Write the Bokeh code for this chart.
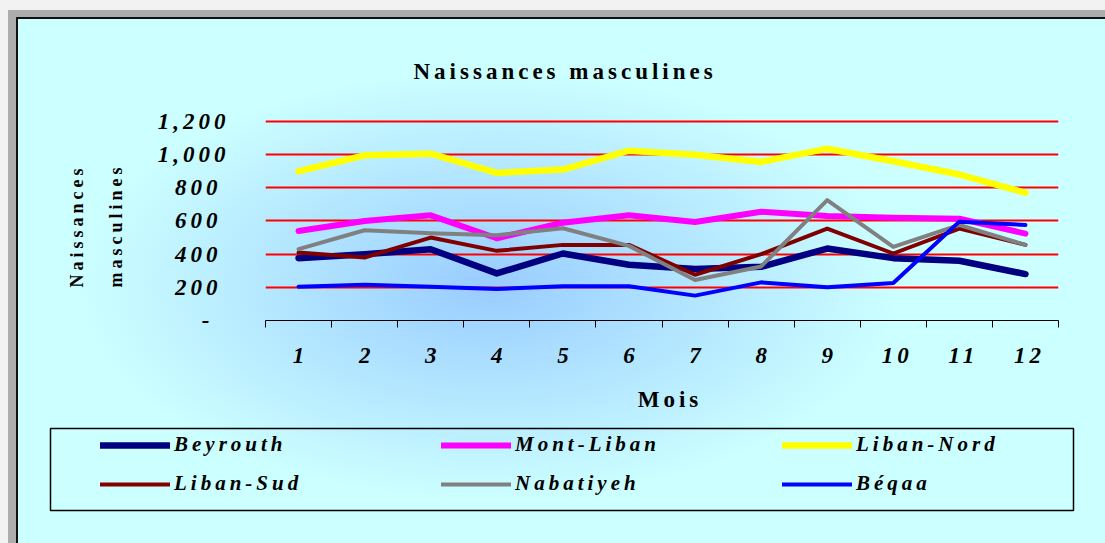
from bokeh.plotting import figure
from bokeh.models import (FixedTicker, NumeralTickFormatter, Legend, LegendItem,
                          Range1d, Title)
from bokeh.embed import file_html
from bokeh.resources import INLINE

# ---------------- data ----------------
months = list(range(1, 13))
beyrouth = [376, 400, 430, 284, 404, 336, 310, 324, 434, 376, 360, 280]
mont_liban = [540, 600, 634, 496, 590, 634, 594, 656, 630, 620, 614, 524]
liban_nord = [900, 996, 1006, 890, 910, 1024, 1000, 956, 1036, 960, 880, 770]
liban_sud = [410, 380, 500, 420, 456, 456, 276, 400, 554, 404, 554, 456]
nabatiyeh = [430, 544, 526, 514, 556, 450, 244, 326, 726, 444, 576, 456]
beqaa = [204, 216, 204, 190, 206, 206, 150, 230, 200, 226, 596, 576]
y_ticks = [0, 200, 400, 600, 800, 1000, 1200]

series_names = ["Beyrouth", "Mont-Liban", "Liban-Nord", "Liban-Sud", "Nabatiyeh", "Béqaa"]
series_values = [beyrouth, mont_liban, liban_nord, liban_sud, nabatiyeh, beqaa]
series_colors = ["#000080", "#FF00FF", "#FFFF00", "#800000", "#808080", "#0000FF"]
series_widths = [6.5, 6, 6.5, 4, 4, 4]

title_text = "Naissances masculines"
ylabel_text = "Naissances\nmasculines"
xlabel_text = "Mois"

FONT = "Liberation Serif"
GRAD = "radial-gradient(ellipse 410px 215px at 490px {cy}px, #99CCFF 0%, #CCFFFF 100%)"

# ---------------- chart ----------------
p = figure(width=1105, height=427,
           x_range=Range1d(0.5, 12.5), y_range=Range1d(0, 1212),
           output_backend="svg", toolbar_location=None,
           min_border_left=265, min_border_right=47,
           min_border_top=119, min_border_bottom=107)
p.background_fill_alpha = 0
p.border_fill_alpha = 0
p.outline_line_color = None
p.styles = {
    "background": ("linear-gradient(#111,#111) 16px 17px / 100% 2px no-repeat, "
                   "linear-gradient(#111,#111) 16px 17px / 2px 100% no-repeat, "
                   "linear-gradient(#ADADAD,#ADADAD) 8px 10px / 100% 7px no-repeat, "
                   "linear-gradient(#ADADAD,#ADADAD) 8px 10px / 8px 100% no-repeat, "
                   "linear-gradient(#F2F2F2,#F2F2F2) 0px 0px / 100% 10px no-repeat, "
                   "linear-gradient(#F2F2F2,#F2F2F2) 0px 0px / 8px 100% no-repeat, "
                   + GRAD.format(cy=285)),
    "letter-spacing": "4px",
}

renderers = []
for vals, col, w in zip(series_values, series_colors, series_widths):
    r = p.line(months, vals, line_color=col, line_width=w,
               line_cap="round", line_join="round")
    renderers.append(r)

# title
p.title.text = title_text
p.title.align = "left"
p.title.offset = 148
p.title.standoff = 72
p.title.text_font = FONT
p.title.text_font_size = "23px"
p.title.text_font_style = "bold"
p.title.text_color = "black"

# x axis
xa = p.xaxis[0]
xa.ticker = FixedTicker(ticks=months, minor_ticks=[m - 0.5 for m in months] + [12.5])
xa.major_tick_line_color = None
xa.major_tick_in = 0
xa.major_tick_out = 0
xa.minor_tick_line_color = "black"
xa.minor_tick_in = 0
xa.minor_tick_out = 7
xa.axis_line_color = "black"
xa.axis_line_width = 1
xa.major_label_text_font = FONT
xa.major_label_text_font_size = "23px"
xa.major_label_text_font_style = "bold italic"
xa.major_label_text_color = "black"
xa.major_label_standoff = 20
xa.axis_label = xlabel_text
xa.axis_label_text_font = FONT
xa.axis_label_text_font_size = "23px"
xa.axis_label_text_font_style = "bold"
xa.axis_label_text_color = "black"
xa.axis_label_standoff = 21
p.xgrid.grid_line_color = None

# y axis
ya = p.yaxis[0]
ya.ticker = FixedTicker(ticks=y_ticks)
ya.formatter = NumeralTickFormatter(format="0,0")
ya.major_label_overrides = {0: "-"}
ya.axis_line_color = None
ya.major_tick_line_color = None
ya.minor_tick_line_color = None
ya.major_tick_in = 0
ya.major_tick_out = 0
ya.major_label_text_font = FONT
ya.major_label_text_font_size = "23px"
ya.major_label_text_font_style = "bold italic"
ya.major_label_text_color = "black"
ya.major_label_standoff = 56
p.ygrid.ticker = FixedTicker(ticks=y_ticks[1:])
p.ygrid.grid_line_color = "#FF0000"
p.ygrid.grid_line_width = 2

# y axis title (two lines) in the left side panel
p.add_layout(Title(text=ylabel_text, align="left", offset=33, standoff=58,
                   text_font=FONT, text_font_size="18px", text_font_style="bold",
                   text_color="black", text_line_height=1.95), "left")

# ---------------- legend box (second root, its frame is the box) ----------------
p2 = figure(width=1105, height=116, x_range=Range1d(0, 1), y_range=Range1d(0, 1),
            output_backend="svg", toolbar_location=None,
            x_axis_location=None, y_axis_location=None,
            min_border_left=50, min_border_right=32,
            min_border_top=1, min_border_bottom=33)
p2.background_fill_alpha = 0
p2.border_fill_alpha = 0
p2.outline_line_color = "black"
p2.outline_line_width = 1.5
p2.grid.visible = False
p2.styles = {
    "background": ("linear-gradient(#111,#111) 16px 0px / 2px 100% no-repeat, "
                   "linear-gradient(#ADADAD,#ADADAD) 8px 0px / 8px 100% no-repeat, "
                   "linear-gradient(#F2F2F2,#F2F2F2) 0px 0px / 8px 100% no-repeat, "
                   + GRAD.format(cy=285 - 427)),
    "letter-spacing": "4px",
}

# key-only renderers (one empty point each) carry the swatch styles
key_renderers = [p2.line(x=[float("nan")], y=[float("nan")], line_color=col,
                         line_width=w, line_cap="round")
                 for col, w in zip(series_colors, series_widths)]

for row, ypos in zip([0, 1], [53, 14]):
    items = [LegendItem(label=series_names[i], renderers=[key_renderers[i]])
             for i in range(row * 3, row * 3 + 3)]
    leg = Legend(items=items, location=(50, ypos), orientation="horizontal",
                 padding=0, margin=0, spacing=77, glyph_width=70, glyph_height=20,
                 label_height=20, label_width=190, label_standoff=4,
                 label_text_font=FONT, label_text_font_size="21px",
                 label_text_font_style="bold italic", label_text_color="black",
                 border_line_color=None, background_fill_alpha=0)
    p2.add_layout(leg)

open("out.html", "w").write(file_html([p, p2], INLINE))
